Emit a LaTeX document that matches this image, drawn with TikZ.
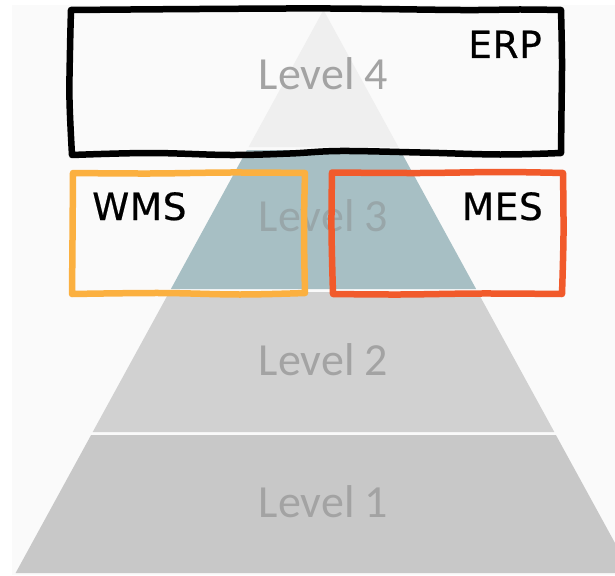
\documentclass[tikz,border=0pt]{standalone}
\usepackage{fontspec}
\newfontfamily\lvlfont{Carlito}
\newfontfamily\tagfont[LetterSpace=1.5, FakeBold=0.5]{DejaVu Sans}
\definecolor{pagebg}{HTML}{FAFAFA}
\definecolor{lvfour}{HTML}{EFEFEF}
\definecolor{lvthree}{HTML}{A7BFC4}
\definecolor{lvtwo}{HTML}{D1D1D1}
\definecolor{lvone}{HTML}{C8C8C8}
\definecolor{lvtext}{HTML}{A3A3A3}
\definecolor{lvtextthree}{HTML}{98A6A9}
\definecolor{wmsorange}{HTML}{FBB040}
\definecolor{mesred}{HTML}{F15A2B}
\tikzset{
  lvlabel/.style={font=\lvlfont\fontsize{46}{46}\selectfont, text=lvtext, anchor=base, inner sep=0pt},
  taglabel/.style={font=\tagfont\fontsize{37.5}{37.5}\selectfont, text=black, inner sep=0pt},
  sketch/.style={line width=6.5pt, line cap=round, line join=round},
}
\begin{document}
\begin{tikzpicture}[x=1pt, y=-1pt]
\useasboundingbox (0,0) rectangle (615,575);
% page background
\fill[pagebg] (12,5) rectangle (615,575);
% pyramid tiers (half width grows 0.547 per unit of height from the apex at y=10)
\begin{scope}
\clip (12,5) rectangle (615,575);
\fill[lvfour]  (323.5,10) -- (398.4,147) -- (248.6,147) -- cycle;
\fill[lvthree] (246.9,150) -- (400.1,150) -- (476.1,289) -- (170.9,289) -- cycle;
\fill[lvtwo]   (169.3,292) -- (477.7,292) -- (554.3,432) -- (92.7,432) -- cycle;
\fill[lvone]   (91.1,435) -- (555.9,435) -- (631.4,573) -- (15.6,573) -- cycle;
\end{scope}
% tier labels
\node[lvlabel] (lv4) at (323.5,90) {Level 4};
\node[lvlabel, text=lvtextthree] (lv3) at (323.5,231) {Level 3};
\node[lvlabel] (lv2) at (323.5,375) {Level 2};
\node[lvlabel] (lv1) at (323.5,517) {Level 1};
% hand drawn ERP frame
\draw[sketch, black]
  plot[smooth, tension=0.6] coordinates {(71,10) (200,9) (330,8.5) (460,10) (520,9.5) (561,10)}
  plot[smooth, tension=0.6] coordinates {(561,10) (562,60) (561.5,110) (561,153)}
  plot[smooth, tension=0.6] coordinates {(561,153) (500,154.5) (420,152.5) (340,151) (290,153.5) (230,155) (150,153) (72,155)}
  plot[smooth, tension=0.6] coordinates {(72,155) (69.5,100) (70,50) (71,10)};
% hand drawn WMS frame
\draw[sketch, wmsorange]
  plot[smooth, tension=0.6] coordinates {(73,173) (150,173.5) (230,172.5) (305,173)}
  plot[smooth, tension=0.6] coordinates {(305,173) (304,230) (305,293)}
  plot[smooth, tension=0.6] coordinates {(305,293) (240,294.5) (160,293) (72,294)}
  plot[smooth, tension=0.6] coordinates {(72,294) (72.5,240) (73,173)};
% hand drawn MES frame
\draw[sketch, mesred]
  plot[smooth, tension=0.6] coordinates {(332,172.5) (420,173) (500,172) (563,173)}
  plot[smooth, tension=0.6] coordinates {(563,173) (563.5,235) (562,294)}
  plot[smooth, tension=0.6] coordinates {(562,294) (480,293.5) (400,294.5) (333,294)}
  plot[smooth, tension=0.6] coordinates {(333,294) (331.5,230) (332,172.5)};
% system labels
\node[taglabel, anchor=base east] (erp) at (542,58) {ERP};
\node[taglabel, anchor=base west] (wms) at (92,220) {WMS};
\node[taglabel, anchor=base east] (mes) at (543,220) {MES};
\end{tikzpicture}
\end{document}
